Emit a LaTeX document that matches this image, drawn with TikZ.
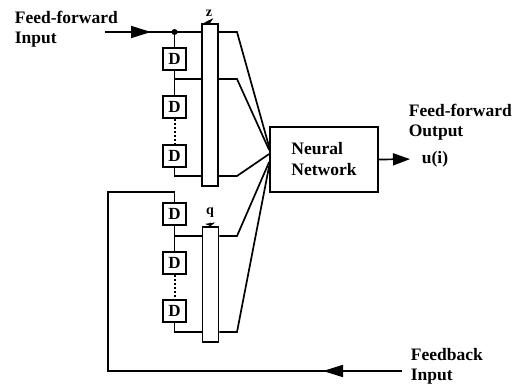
\documentclass[tikz,border=0pt]{standalone}
\usepackage{fontspec}
\setmainfont{Liberation Serif}
\usetikzlibrary{arrows.meta,decorations.markings,calc}

\begin{document}
\begin{tikzpicture}[x=1pt,y=-1pt,line width=1.7pt,
  lbl/.style={font=\fontsize{17.5}{20}\selectfont\bfseries,align=left,inner sep=0pt},
  dbox/.style={draw,line width=2pt,minimum width=23pt,minimum height=22pt,inner sep=0pt,
    font=\fontsize{17}{17}\selectfont\bfseries},
  tapbar/.style={draw,minimum width=16pt,inner sep=0pt},
  nnbox/.style={draw,minimum width=108pt,minimum height=65pt,align=left,inner sep=0pt,
    font=\fontsize{17.5}{21}\selectfont\bfseries},
  barlbl/.style={font=\fontsize{14}{14}\selectfont\bfseries,inner sep=0pt},
  tick/.style={-{Triangle[length=3pt,width=10pt]},line width=1pt},
  arrowat/.style={postaction={decorate},decoration={markings,
    mark=at position #1 with {\arrow{Triangle[length=20pt,width=12pt]}}}},
  chainlink/.style={line width=1.8pt},
  skiplink/.style={line width=2pt,dotted}
]
\useasboundingbox (0,0) rectangle (513,390);

% labels of the external signals
\node[lbl,anchor=north west] (ffin) at (14,10) {Feed-forward\\Input};
\node[lbl,anchor=north west] (ffout) at (408,103) {Feed-forward\\Output};
\node[lbl,anchor=west] (uout) at (421,159) {u(i)};
\node[lbl,anchor=north west] (fbtext) at (410,348) {Feedback\\Input};

% neural network block
\node[nnbox] (nn) at (324,159.5) {Neural\\Network};

% tapped delay line registers
\node[tapbar,minimum height=162pt] (zbar) at (210,105) {};
\node[tapbar,minimum height=115pt] (qbar) at (210.5,284.5) {};
\node[barlbl] (zlbl) at (209,13) {z};
\node[barlbl] (qlbl) at (210,213) {q};
\draw[tick] (zlbl.south) ++(0,4) -- (zbar.north);
\draw[tick] (qlbl.south) ++(0,4) -- (qbar.north);

% delay elements
\node[dbox] (d1) at (174.5,59) {D};
\node[dbox] (d2) at (174.5,107) {D};
\node[dbox] (d3) at (174.5,156) {D};
\node[dbox] (d4) at (174.5,214) {D};
\node[dbox] (d5) at (174.5,262.5) {D};
\node[dbox] (d6) at (174.5,311) {D};

% feed-forward input and its delay chain
\coordinate (ffstart) at (105,32);
\coordinate (j1) at (174.5,32);
\draw[arrowat=46pt] (ffstart) -- (zbar.west |- ffstart);
\fill (j1) circle (3pt);
\draw[chainlink] (j1) -- (d1.north);
\draw[chainlink] (d1.south) -- (d2.north);
\draw[skiplink] (d2.south) -- (d3.north);
\draw (d1.south |- 0,79) -- (zbar.west |- 0,79);
\draw (d3.south) |- (zbar.west |- 0,176);

% feedback input and its delay chain
\coordinate (fbstart) at (402,371);
\coordinate (fbleft) at (108,371);
\draw[arrowat=79pt] (fbstart) -- (fbleft) |- ($(d4.north)+(0,-10)$) -- (d4.north);
\draw[chainlink] (d4.south) -- (d5.north);
\draw[skiplink] (d5.south) -- (d6.north);
\draw (d4.south |- 0,236) -- (qbar.west |- 0,236);
\draw (d6.south) |- (qbar.west |- 0,332);

% register outputs fanned into the network
\draw (zbar.east |- 0,32) -- (237,32) -- (nn.west |- 0,147);
\draw (zbar.east |- 0,79) -- (237,79) -- (nn.west |- 0,150);
\draw (zbar.east |- 0,176) -- (237,176) -- (nn.west |- 0,154);
\draw (qbar.east |- 0,236) -- (237,236) -- (nn.west |- 0,162);
\draw (qbar.east |- 0,332) -- (237,332) -- (nn.west |- 0,166);

% network output
\draw[-{Triangle[length=17pt,width=12pt]},shorten >=11pt] (nn.east) -- (uout.west);
\end{tikzpicture}
\end{document}
